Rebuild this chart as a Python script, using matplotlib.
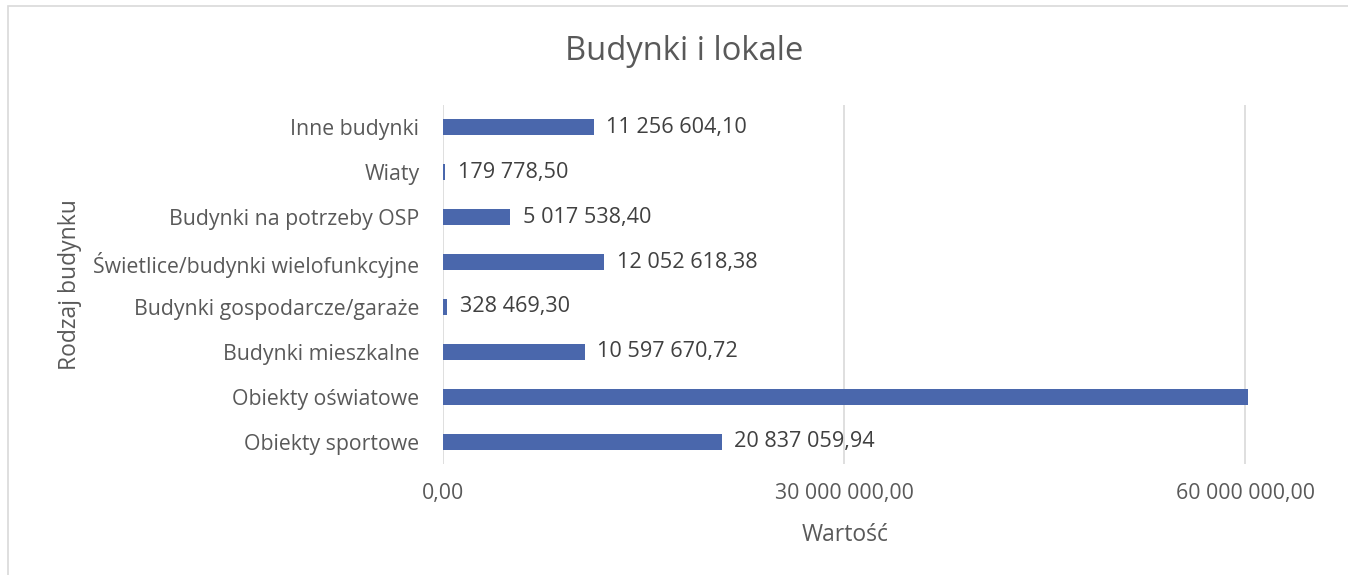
import matplotlib
matplotlib.use("Agg")
import matplotlib.pyplot as plt
from matplotlib.patches import Rectangle

plt.rcParams['font.family'] = ['Open Sans', 'DejaVu Sans']

categories = ["Obiekty sportowe", "Obiekty oświatowe", "Budynki mieszkalne",
              "Budynki gospodarcze/garaże", "Świetlice/budynki wielofunkcyjne",
              "Budynki na potrzeby OSP", "Wiaty", "Inne budynki"]
values = [20837059.94, 60200000.00, 10597670.72, 328469.30, 12052618.38,
          5017538.40, 179778.50, 11256604.10]
value_labels = ["20 837 059,94", None, "10 597 670,72", "328 469,30",
                "12 052 618,38", "5 017 538,40", "179 778,50", "11 256 604,10"]
x_ticks = [0, 30000000, 60000000]
x_tick_labels = ["0,00", "30 000 000,00", "60 000 000,00"]

W, H = 1348, 575
fig = plt.figure(figsize=(W / 100, H / 100), dpi=100)

# outer chart border
fig.add_artist(Rectangle((8 / W, -0.05), 1.2, (H - 6) / H + 0.05,
                         transform=fig.transFigure, fill=False,
                         edgecolor="#d9d9d9", linewidth=1.2))

ax = fig.add_axes([443 / W, 1 - 464 / H, (1248 - 443) / W, (464 - 105) / H])
y = list(range(len(categories)))
ax.barh(y, values, height=0.355, color="#4a67ac", zorder=3)
ax.set_ylim(-0.5, len(categories) - 0.5)
ax.set_xlim(0, 60200000)
ax.set_xticks(x_ticks)
ax.set_xticklabels(x_tick_labels)
ax.set_yticks(y)
ax.set_yticklabels(categories)
ax.tick_params(axis='x', length=0, pad=14, labelsize=15.3, labelcolor="#595959")
ax.tick_params(axis='y', length=0, pad=17, labelsize=15.3, labelcolor="#595959")
for s in ax.spines.values():
    s.set_visible(False)
ax.grid(axis='x', color="#d9d9d9", linewidth=1.2, zorder=0)

for yi, v, lab in zip(y, values, value_labels):
    if lab:
        ax.annotate(lab, (v, yi), xytext=(9, 0), textcoords="offset points",
                    va="center", ha="left", fontsize=15.6, color="#404040")

fig.text(684 / W, 1 - 51 / H, "Budynki i lokale", ha="center", va="center",
         fontsize=23.6, color="#595959")
fig.text(845 / W, 1 - 535 / H, "Wartość", ha="center", va="center",
         fontsize=16.5, color="#595959")
fig.text(70 / W, 1 - 285 / H, "Rodzaj budynku", ha="center", va="center",
         rotation=90, fontsize=16.5, color="#595959")

fig.savefig("out.png", dpi=100)
